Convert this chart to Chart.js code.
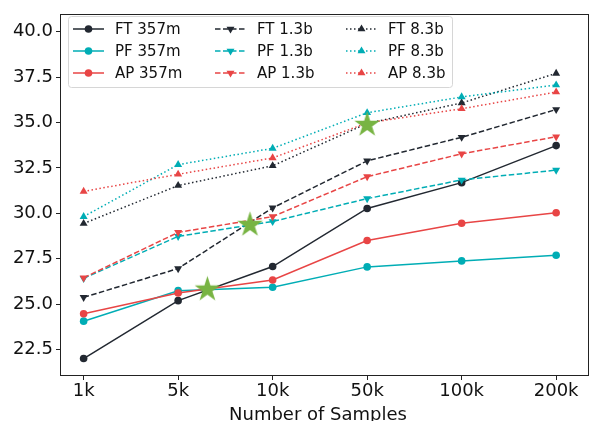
<!DOCTYPE html>
<html>
<head>
<meta charset="utf-8">
<script src="https://cdn.jsdelivr.net/npm/chart.js@4/dist/chart.umd.min.js"></script>
<style>
  html, body { margin: 0; padding: 0; background: #fff; }
  #wrap { width: 590px; height: 421px; }
</style>
</head>
<body>
<div id="wrap"><canvas id="myLineChart" width="590" height="421"></canvas></div>
<script>
// Data
const sampleLabels = ['1k', '5k', '10k', '50k', '100k', '200k'];
const ft357 = [22.0, 25.19, 27.07, 30.27, 31.69, 33.73];
const pf357 = [24.06, 25.74, 25.93, 27.05, 27.38, 27.69];
const ap357 = [24.47, 25.61, 26.33, 28.50, 29.45, 30.03];
const ft13 = [25.37, 26.96, 30.30, 32.89, 34.19, 35.72];
const pf13 = [26.42, 28.73, 29.55, 30.81, 31.84, 32.38];
const ap13 = [26.45, 28.95, 29.82, 32.02, 33.28, 34.22];
const ft83 = [29.44, 31.53, 32.62, 34.95, 36.08, 37.71];
const pf83 = [29.82, 32.68, 33.58, 35.54, 36.41, 37.07];
const ap83 = [31.21, 32.15, 33.05, 34.98, 35.76, 36.68];
// star markers (x is position between the category ticks)
const starX = [1.31, 1.76, 3.0];
const starY = [25.88, 29.44, 34.95];

const yTicks = [22.5, 25.0, 27.5, 30.0, 32.5, 35.0, 37.5, 40.0];

const DARK = '#222831';
const TEAL = '#00ADB5';
const RED = '#E84545';
const GREEN = '#78B443';

const DASHED = [5.5, 2.5];
const DOTTED = [1.5, 2.5];

function toPoints(arr) {
  return arr.map((v, i) => ({ x: i, y: v }));
}

// filled five point star used as point image
function makeStar(r, color) {
  const c = document.createElement('canvas');
  c.width = c.height = Math.ceil(2 * r + 2);
  const g = c.getContext('2d');
  const cx = c.width / 2, cy = c.height / 2 + r * 0.1;
  g.beginPath();
  for (let k = 0; k < 10; k++) {
    const rad = k % 2 === 0 ? r : r * 0.382;
    const a = -Math.PI / 2 + k * Math.PI / 5;
    const px = cx + rad * Math.cos(a), py = cy + rad * Math.sin(a);
    if (k === 0) g.moveTo(px, py); else g.lineTo(px, py);
  }
  g.closePath();
  g.fillStyle = color;
  g.fill();
  return c;
}

function series(label, values, color, dash, style, rot, order) {
  return {
    label: label,
    data: toPoints(values),
    borderColor: color,
    backgroundColor: color,
    borderWidth: 1.5,
    borderDash: dash,
    pointStyle: style,
    pointRotation: rot,
    pointRadius: style === 'circle' ? 3.8 : 4.6,
    pointBorderWidth: 0,
    tension: 0,
    order: order
  };
}

const datasets = [
  series('FT 357m', ft357, DARK, [], 'circle', 0, 9),
  series('PF 357m', pf357, TEAL, [], 'circle', 0, 8),
  series('AP 357m', ap357, RED, [], 'circle', 0, 7),
  series('FT 1.3b', ft13, DARK, DASHED, 'triangle', 180, 6),
  series('PF 1.3b', pf13, TEAL, DASHED, 'triangle', 180, 5),
  series('AP 1.3b', ap13, RED, DASHED, 'triangle', 180, 4),
  series('FT 8.3b', ft83, DARK, DOTTED, 'triangle', 0, 3),
  series('PF 8.3b', pf83, TEAL, DOTTED, 'triangle', 0, 2),
  series('AP 8.3b', ap83, RED, DOTTED, 'triangle', 0, 1),
  {
    label: 'star',
    data: starX.map((x, i) => ({ x: x, y: starY[i] })),
    showLine: false,
    pointStyle: makeStar(13.5, GREEN),
    pointRadius: 13,
    order: 0
  }
];

// box around the plot area (right side runs to the canvas edge like the original)
const framePlugin = {
  id: 'frame',
  afterDatasetsDraw(chart) {
    const a = chart.chartArea;
    const c = chart.ctx;
    const right = chart.width - 1;
    c.save();
    c.strokeStyle = '#222';
    c.lineWidth = 1;
    c.strokeRect(Math.round(a.left) + 0.5, Math.round(a.top) + 0.5,
      right - Math.round(a.left) - 1, Math.round(a.bottom - a.top) - 1);
    c.restore();
  }
};

// matplotlib style legend: 3 columns, line sample with marker
const legendPlugin = {
  id: 'mplLegend',
  afterDraw(chart) {
    const c = chart.ctx;
    const bx = 68, by = 16, bw = 384, bh = 71;
    c.save();
    c.beginPath();
    c.roundRect(bx + 0.5, by + 0.5, bw, bh, 3);
    c.fillStyle = 'rgba(255,255,255,0.8)';
    c.fill();
    c.strokeStyle = '#d6d6d6';
    c.lineWidth = 1;
    c.stroke();

    const colX = [73, 215, 346];
    const rowY = [29, 51, 73];
    c.font = '15px "DejaVu Sans"';
    c.textBaseline = 'middle';
    for (let i = 0; i < 9; i++) {
      const ds = chart.data.datasets[i];
      const x0 = colX[Math.floor(i / 3)];
      const y0 = rowY[i % 3];
      c.strokeStyle = ds.borderColor;
      c.lineWidth = 1.5;
      c.setLineDash(ds.borderDash);
      c.beginPath();
      c.moveTo(x0, y0);
      c.lineTo(x0 + 31, y0);
      c.stroke();
      c.setLineDash([]);
      c.fillStyle = ds.borderColor;
      Chart.helpers.drawPoint(c, {
        pointStyle: ds.pointStyle,
        rotation: ds.pointRotation,
        radius: ds.pointRadius,
        borderWidth: 0
      }, x0 + 15.5, y0);
      c.fillStyle = '#111';
      c.fillText(ds.label, x0 + 42, y0 + 1);
    }
    c.restore();
  }
};

const ctx = document.getElementById('myLineChart').getContext('2d');

const config = {
  type: 'line',
  data: { datasets: datasets },
  options: {
    responsive: false,
    animation: false,
    layout: { padding: { top: 8, right: 1, left: 0, bottom: 0 } },
    plugins: {
      legend: { display: false },
      tooltip: { enabled: false }
    },
    scales: {
      x: {
        type: 'linear',
        min: -0.25,
        max: 5.21,
        afterBuildTicks(scale) {
          scale.ticks = sampleLabels.map((l, i) => ({ value: i }));
        },
        afterFit(scale) {
          scale.height = 45;
          scale.paddingLeft = 0;
          scale.paddingRight = 0;
        },
        ticks: {
          callback: (v) => sampleLabels[v],
          color: '#111',
          font: { family: 'DejaVu Sans', size: 18 },
          padding: 1,
          maxRotation: 0,
          autoSkip: false
        },
        grid: {
          drawOnChartArea: false,
          drawTicks: true,
          tickLength: 4,
          tickColor: '#222'
        },
        border: { display: false },
        title: {
          display: true,
          text: 'Number of Samples',
          color: '#111',
          font: { family: 'DejaVu Sans', size: 18 },
          padding: { top: 0, bottom: -5 }
        }
      },
      y: {
        min: 21.04,
        max: 40.98,
        afterBuildTicks(scale) {
          scale.ticks = yTicks.map(v => ({ value: v }));
        },
        afterFit(scale) {
          scale.width = 60;
          scale.paddingTop = 0;
          scale.paddingBottom = 0;
        },
        ticks: {
          callback: (v) => v.toFixed(1),
          color: '#111',
          font: { family: 'DejaVu Sans', size: 18 },
          padding: 3
        },
        grid: {
          drawOnChartArea: false,
          drawTicks: true,
          tickLength: 4,
          tickColor: '#222'
        },
        border: { display: false }
      }
    }
  },
  plugins: [framePlugin, legendPlugin]
};

new Chart(ctx, config);
</script>
</body>
</html>
